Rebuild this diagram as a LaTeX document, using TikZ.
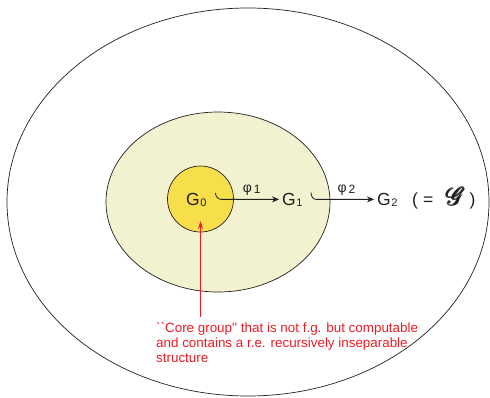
\documentclass[tikz,border=0pt]{standalone}
\usepackage{fontspec}
\usepackage{amsmath}
\usepackage{mathrsfs}
\setmainfont{Liberation Sans}
\newfontfamily\notefont[Ligatures=TeXOff]{Liberation Sans}
\usetikzlibrary{arrows.meta,positioning,shapes.geometric,calc}
\definecolor{inkdark}{RGB}{35,31,32}
\definecolor{coreyellow}{RGB}{247,223,76}
\definecolor{paleyellow}{RGB}{242,242,208}
\definecolor{notered}{RGB}{237,28,36}
\newcommand{\grp}[1]{G\kern0.6pt\raisebox{-1pt}{\fontsize{11}{11}\selectfont #1}}
\newcommand{\mapname}[1]{φ\kern2pt\raisebox{-1pt}{\fontsize{12}{12}\selectfont #1}}
\tikzset{
  region/.style    = {ellipse, draw=inkdark, line width=0.7pt, inner sep=0pt},
  grpnode/.style   = {inner sep=0pt, anchor=base west, text=inkdark,
                      font=\fontsize{17.5}{17.5}\selectfont},
  maplbl/.style    = {text=inkdark, font=\fontsize{14}{14}\selectfont},
  maparrow/.style  = {-{Stealth[length=7pt,width=6pt]}, line width=0.8pt, draw=inkdark},
  notearrow/.style = {-{Stealth[length=8pt,width=5pt]}, line width=0.8pt, draw=notered},
  notetxt/.style   = {align=left, text=notered, inner sep=0pt,
                      font=\notefont\fontsize{13.4}{15.3}\selectfont},
}
\begin{document}
\begin{tikzpicture}[x=1pt,y=-1pt]
  \useasboundingbox (0,0) rectangle (490,397);
  % nested regions
  \node[region, minimum width=482pt, minimum height=388pt] (outer) at (248,202) {};
  \node[region, fill=paleyellow, minimum width=224pt, minimum height=180pt] (mid) at (218,202) {};
  \node[region, circle, fill=coreyellow, minimum size=66pt] (core) at (200.5,199) {};
  % groups
  \node[grpnode] (G0) at (186,205) {\grp{0}};
  \node[grpnode] (G1) at (282,205) {\grp{1}};
  \node[grpnode] (G2) at (377,205) {\grp{2}};
  \node[grpnode] (eqg) at (412,205)
    {(\hspace{5pt}=\hspace{13pt}{\fontsize{27}{27}\selectfont$\pmb{\mathscr{G}}$}\hspace{4pt})};
  % embeddings
  \coordinate (h0) at (215.5,193);
  \coordinate (h1) at (311,192.5);
  \draw[maparrow, shorten >=3pt] (h0) to[out=-90, in=180] ($(h0 |- G1.west)+(6,0)$)
    -- node[maplbl, above] {\mapname{1}} (G1.west);
  \draw[maparrow, shorten >=3pt] (h1) to[out=-90, in=180] ($(h1 |- G2.west)+(5,0)$)
    -- node[maplbl, above] {\mapname{2}} (G2.west);
  % note
  \node[notetxt, anchor=north west] (note) at (156,322)
    {``Core group'' that is not f.g. but computable\\
     and contains a r.e. recursively inseparable\\
     structure};
  \coordinate (tip) at (200.5,221);
  \draw[notearrow] ($(tip |- note.north)+(0,-5)$) -- (tip);
\end{tikzpicture}
\end{document}
